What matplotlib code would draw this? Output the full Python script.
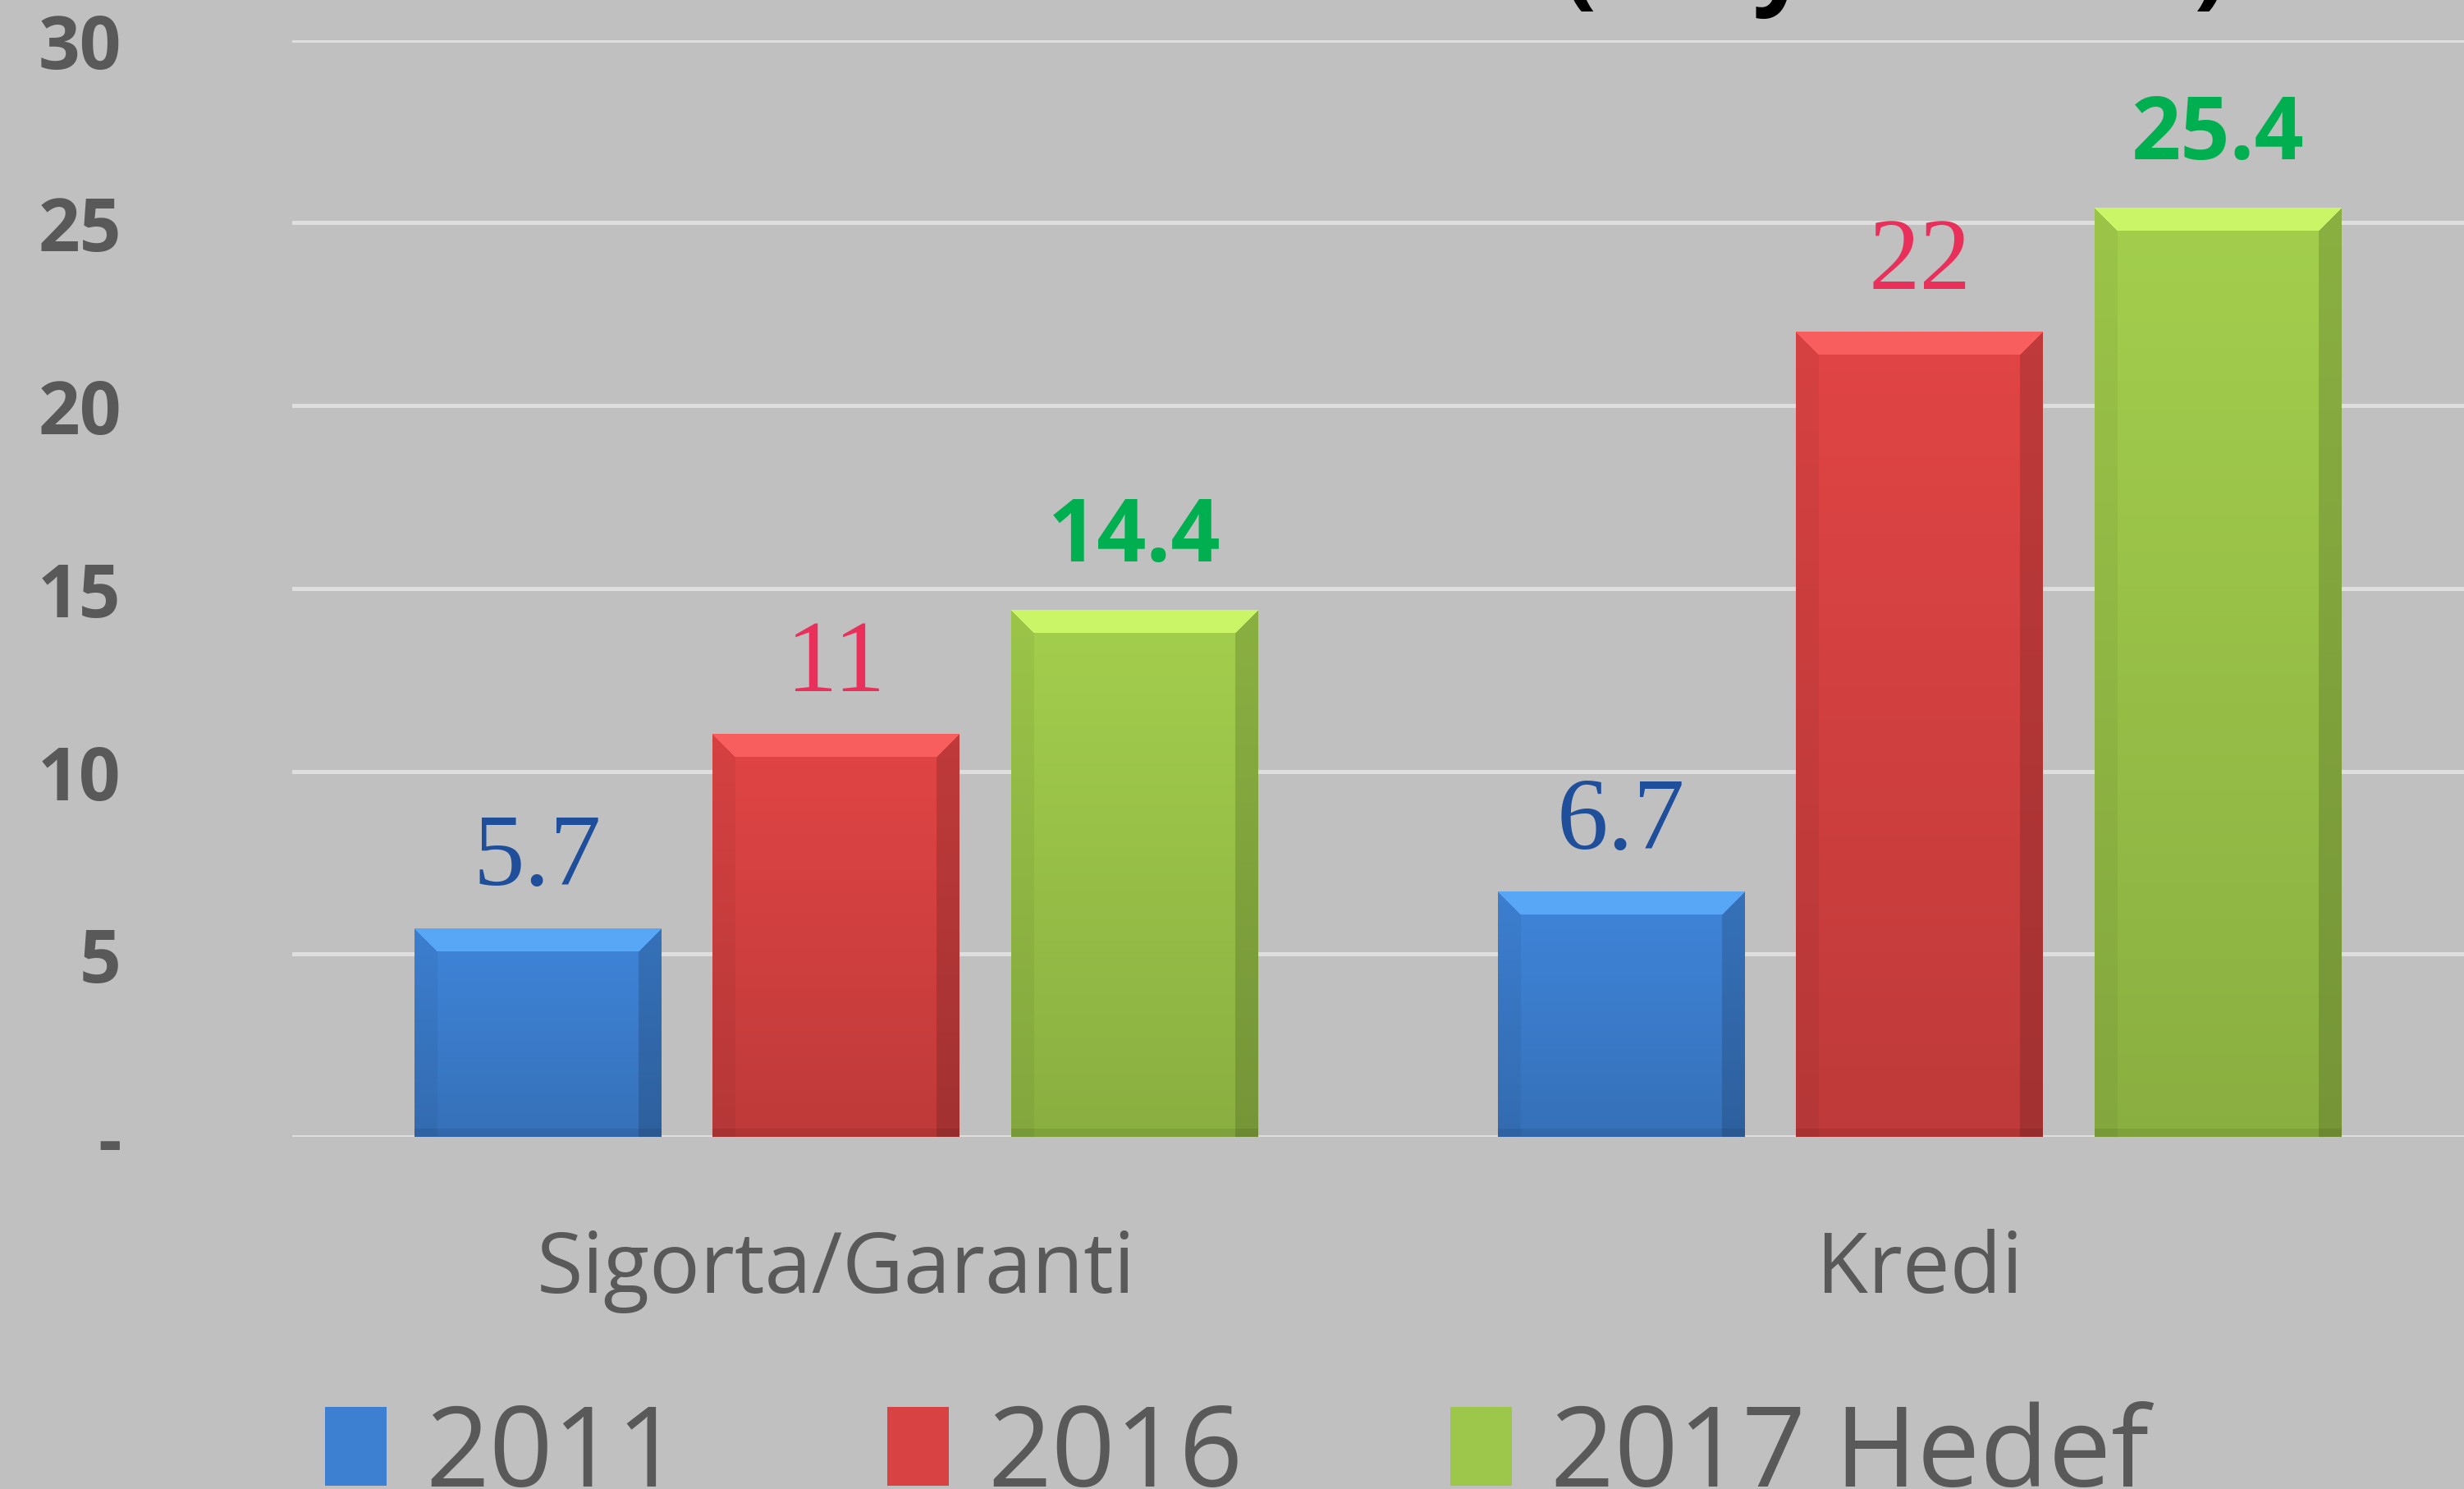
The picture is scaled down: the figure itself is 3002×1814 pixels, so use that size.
import matplotlib
matplotlib.use("Agg")
import matplotlib.pyplot as plt
from matplotlib.patches import Patch
from matplotlib.colors import to_rgb
import numpy as np

categories = ["Sigorta/Garanti", "Kredi"]
series_names = ["2011", "2016", "2017 Hedef"]
values_2011 = [5.7, 6.7]
values_2016 = [11, 22]
values_2017 = [14.4, 25.4]
label_2011 = ["5.7", "6.7"]
label_2016 = ["11", "22"]
label_2017 = ["14.4", "25.4"]
yticks = [0, 5, 10, 15, 20, 25, 30]
ytick_labels = ["-", "5", "10", "15", "20", "25", "30"]
title = "Türk Eximbank Destekleri (milyar dolar)"

bg = "#c0c0c0"
colors = ["#3d80d2", "#d94242", "#9dc74a"]
label_colors = ["#1f4e9a", "#e8305a", "#00b050"]

W, H = 3002, 1815
fig = plt.figure(figsize=(W / 100, H / 100), dpi=100, facecolor=bg)
ax_rect = [0.1186, 0.2363, 0.8814, 0.7363]
ax = fig.add_axes(ax_rect)
ax.set_facecolor(bg)

xlim = (-0.502, 1.5025)
ylim = (0, 30)
px_per_x = ax_rect[2] * W / (xlim[1] - xlim[0])
px_per_y = ax_rect[3] * H / (ylim[1] - ylim[0])

x = np.arange(len(categories))
width = 0.228
offset = 0.2755
all_vals = [values_2011, values_2016, values_2017]
all_labels = [label_2011, label_2016, label_2017]


def bevel_image(color, nx, ny, b=28):
    c = np.array(to_rgb(color))
    ii = np.arange(ny)[:, None] * np.ones((1, nx))
    jj = np.ones((ny, 1)) * np.arange(nx)[None, :]
    shade = 1.04 - 0.16 * ii / max(ny, 1)
    img = c[None, None, :] * shade[:, :, None]
    light = np.minimum(c * 1.22 + 0.08, 1.0)
    top = (ii < b) & (jj >= ii) & (jj <= nx - 1 - ii)
    img[top] = light * 0.8 + img[top] * 0.2
    left = (jj < b) & ~top & (ii >= jj)
    img[left] = img[left] * 0.95
    right = (jj > nx - 1 - b) & ~top
    img[right] = img[right] * 0.85
    bottom = (ii > ny - 1 - 10)
    img[bottom] = img[bottom] * 0.92
    return np.clip(img, 0, 1)


for i, (vals, labs) in enumerate(zip(all_vals, all_labels)):
    xs = x + (i - 1) * offset
    bars = ax.bar(xs, vals, width, color="none", edgecolor="none", zorder=3)
    for rect, v in zip(bars, vals):
        x0 = rect.get_x()
        nx = int(round(width * px_per_x))
        ny = int(round(v * px_per_y))
        img = bevel_image(colors[i], nx, ny)
        ax.imshow(img, extent=[x0, x0 + width, 0, v], aspect="auto", zorder=3,
                  interpolation="bilinear")
    for xx, v, lab in zip(xs, vals, labs):
        if i == 2:
            ax.text(xx, v + 0.8, lab, ha="center", va="bottom", color=label_colors[i],
                    fontsize=76, fontweight="bold", family="Open Sans", zorder=5)
        else:
            ax.text(xx, v + 0.6, lab, ha="center", va="bottom", color=label_colors[i],
                    fontsize=90, family="Liberation Serif", zorder=5)

ax.set_xlim(*xlim)
ax.set_ylim(*ylim)
ax.set_yticks(yticks)
ax.set_yticklabels(ytick_labels)
ax.set_xticks(x)
ax.set_xticklabels(categories)
ax.yaxis.grid(True, color="#dedede", linewidth=3.6, zorder=1)
ax.set_axisbelow(True)
for s in ax.spines.values():
    s.set_visible(False)
ax.tick_params(axis="y", length=0, pad=150, labelsize=64, labelcolor="#595959")
ax.tick_params(axis="x", length=0, pad=80, labelsize=74, labelcolor="#595959")
for t in ax.get_yticklabels():
    t.set_fontweight("bold")
    t.set_family("Open Sans")
for t in ax.get_xticklabels():
    t.set_family("Open Sans")

handles = [Patch(facecolor=colors[i], edgecolor="none") for i in range(3)]
leg = fig.legend(handles, series_names, loc="center left", bbox_to_anchor=(0.091, 0.022),
                 ncol=3, frameon=False, handlelength=0.55, handleheight=0.7,
                 handletextpad=0.35, columnspacing=1.85,
                 prop={"family": "Open Sans", "size": 98})
for t in leg.get_texts():
    t.set_color("#595959")

fig.text(338 / W, 1 + 5 / H, title, ha="left", va="baseline", fontsize=86,
         fontweight="bold", family="Open Sans", color="black")

fig.savefig("out.png", dpi=100, facecolor=bg)
